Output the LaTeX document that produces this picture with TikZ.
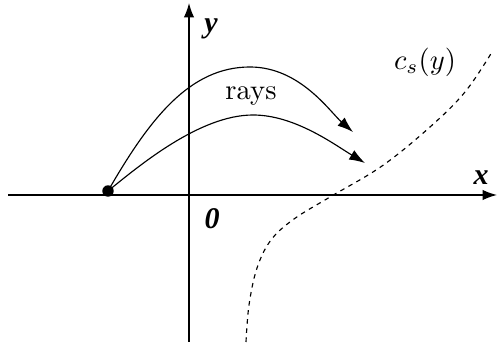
\documentclass[tikz,border=0pt]{standalone}
\usepackage{fontspec}
\newfontfamily\timesfont{Liberation Serif}
\usetikzlibrary{arrows.meta}
\begin{document}
\begin{tikzpicture}[x=0.35pt,y=-0.35pt,
  axis/.style={line width=0.45pt,-{Latex[length=5pt,width=3.6pt]}},
  ray/.style={line width=0.4pt,-{Latex[length=5.5pt,width=3.8pt]}},
  axlabel/.style={font=\timesfont\fontsize{10.5}{12}\selectfont\bfseries\itshape},
  curvestyle/.style={line width=0.4pt,dash pattern=on 1.6pt off 1.6pt}]
\useasboundingbox (0,0) rectangle (497,358);
\coordinate (xl) at (8,195);
\coordinate (xr) at (497,195);
\coordinate (yb) at (189,342);
\coordinate (yt) at (189,3);
\draw[axis] (xl) -- (xr);
\draw[axis] (yb) -- (yt);
\node[axlabel] (ylab) at (211,29) {y};
\node[axlabel] (xlab) at (481,178) {x};
\node[axlabel] (zero) at (212,219) {0};
\node (cs) at (425,62) {$c_s(y)$};
\node (rays) at (251,96) {rays};
\coordinate (src) at (108,191);
\fill (src) circle (2pt);
\coordinate (t1) at (353,132);
\coordinate (t2) at (365,163);
\coordinate (a1) at (250,67);
\coordinate (a2) at (253,115);
\draw[ray] (src) .. controls (150,118) and (190,67) .. (a1) .. controls (300,67) and (330,112) .. (t1);
\draw[ray] (src) .. controls (140,165) and (200,115) .. (a2) .. controls (295,115) and (335,145) .. (t2);
\draw[curvestyle] plot[smooth,tension=0.6] coordinates {(246,342) (249,305) (257,268) (271,240) (294,219) (330,197) (382,166) (430,127) (465,92) (492,52)};
\end{tikzpicture}
\end{document}
